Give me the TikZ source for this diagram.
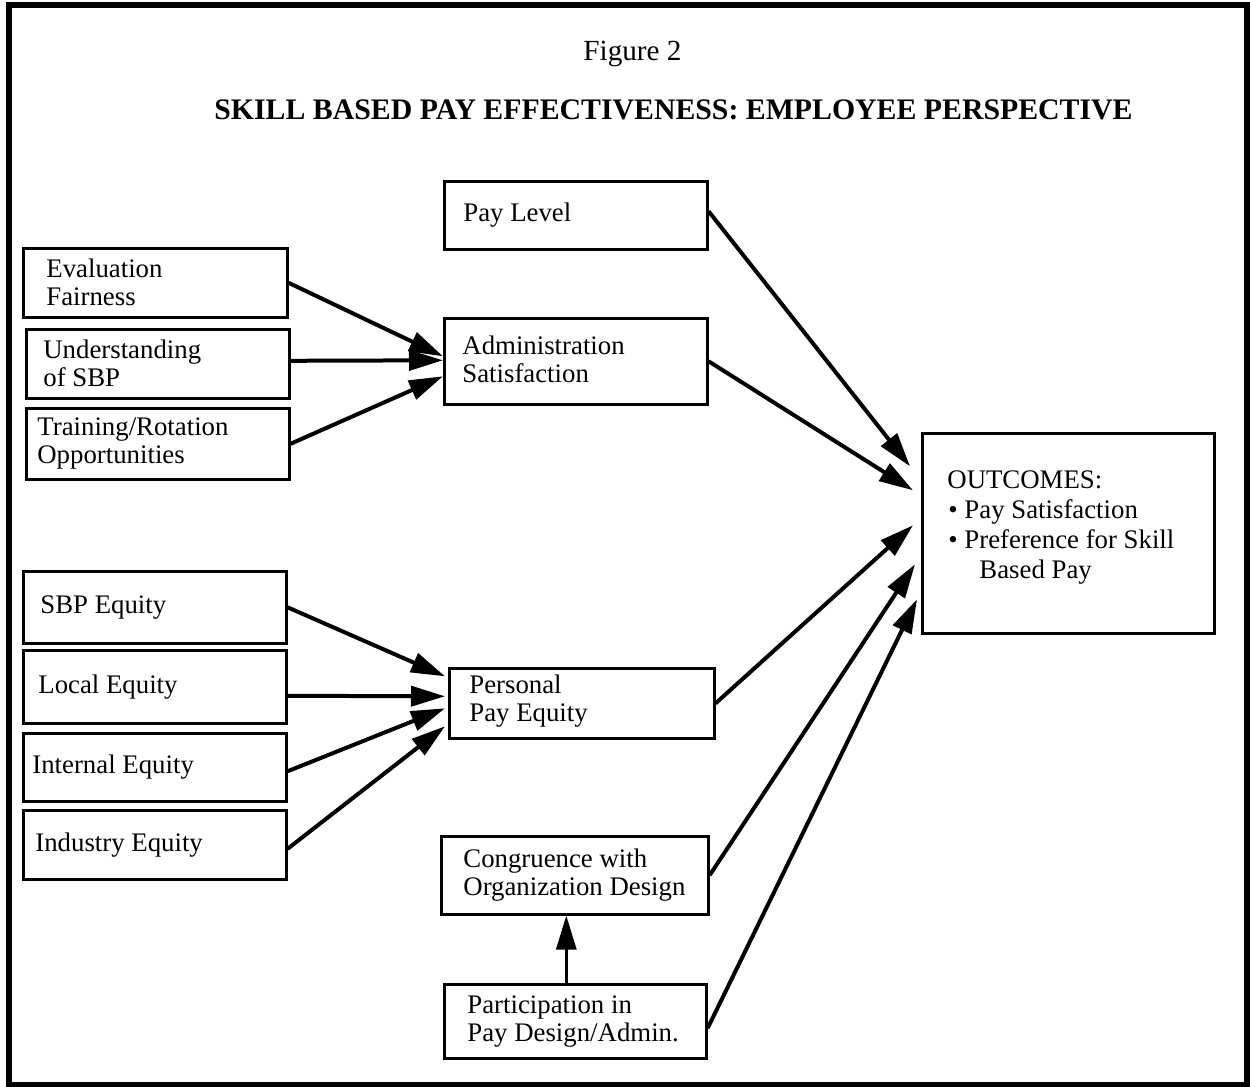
\documentclass[tikz,border=0pt]{standalone}
\usepackage{fontspec}
\setmainfont{Liberation Serif}
\usetikzlibrary{arrows.meta,calc}
\tikzset{
  box/.style={draw, line width=1.3pt, rectangle, anchor=north west, inner sep=0pt},
  txt/.style={anchor=west, inner sep=0pt, align=left, font=\fontsize{13.4}{14}\selectfont},
  arr/.style={line width=2pt, -{Triangle[length=17pt,width=10pt]}},
}
\begin{document}
\begin{tikzpicture}[x=0.5pt,y=-0.5pt]
\useasboundingbox (0,0) rectangle (1250,1087);
\draw[line width=3pt] (9,5) rectangle (1247,1085);
\node[anchor=base west, inner sep=0pt, font=\fontsize{14.6}{15}\selectfont] (fig) at (583,60) {Figure 2};
\node[anchor=base west, inner sep=0pt, font=\fontsize{14.9}{15}\selectfont\bfseries] (title) at (214,119) {SKILL BASED PAY EFFECTIVENESS: EMPLOYEE PERSPECTIVE};
% left upper boxes
\node[box, minimum width=132pt, minimum height=34.5pt] (eval) at (22,247) {};
\node[txt] (evalT) at ($(eval.west)+(24,0)$) {Evaluation\\Fairness};
\node[box, minimum width=131.5pt, minimum height=34.5pt] (under) at (25,328) {};
\node[txt] (underT) at ($(under.west)+(18,0)$) {Understanding\\of SBP};
\node[box, minimum width=131.5pt, minimum height=35.5pt] (train) at (25,407) {};
\node[txt] (trainT) at ($(train.west)+(12,0)$) {Training/Rotation\\Opportunities};
% left lower boxes
\node[box, minimum width=131.5pt, minimum height=36pt] (sbp) at (22,570) {};
\node[txt] (sbpT) at ($(sbp.west)+(18,0)$) {SBP Equity};
\node[box, minimum width=131.5pt, minimum height=36.5pt] (local) at (22,649) {};
\node[txt] (localT) at ($(local.west)+(16,0)$) {Local Equity};
\node[box, minimum width=131.5pt, minimum height=34pt] (internal) at (22,732) {};
\node[txt] (internalT) at ($(internal.west)+(10,0)$) {Internal Equity};
\node[box, minimum width=131.5pt, minimum height=34.5pt] (industry) at (22,809) {};
\node[txt] (industryT) at ($(industry.west)+(13,0)$) {Industry Equity};
% middle boxes
\node[box, minimum width=131.5pt, minimum height=34pt] (pay) at (443,180) {};
\node[txt] (payT) at ($(pay.west)+(20,0)$) {Pay Level};
\node[box, minimum width=131.5pt, minimum height=43pt] (admin) at (443,317) {};
\node[txt] (adminT) at ($(admin.west)+(19,-2)$) {Administration\\Satisfaction};
\node[box, minimum width=132.5pt, minimum height=35pt] (personal) at (448,667) {};
\node[txt] (personalT) at ($(personal.west)+(21,-2)$) {Personal\\Pay Equity};
\node[box, minimum width=133.5pt, minimum height=39pt] (cong) at (440,835) {};
\node[txt] (congT) at ($(cong.west)+(23,0)$) {Congruence with\\Organization Design};
\node[box, minimum width=131pt, minimum height=37pt] (part) at (443,983) {};
\node[txt] (partT) at ($(part.west)+(24,0)$) {Participation in\\Pay Design/Admin.};
% outcomes
\node[box, minimum width=146pt, minimum height=100pt] (out) at (921,432) {};
\node[txt, font=\fontsize{13.4}{15}\selectfont] (outT) at ($(out.west)+(26,-6)$)
  {OUTCOMES:\\\hspace*{0.5pt}\textbullet\ Pay Satisfaction\\\hspace*{0.5pt}\textbullet\ Preference for Skill\\\hspace*{16pt}Based Pay};
% arrows into admin
\draw[arr] (eval.east) -- ($(admin.west)+(0,-5)$);
\draw[arr] ($(under.east)+(0,-3)$) -- ($(admin.west)+(0,-1)$);
\draw[arr] (train.east) -- ($(admin.west)+(0,15)$);
% arrows into personal
\draw[arr] (sbp.east) -- ($(personal.west)+(-3,-27)$);
\draw[arr] ($(local.east)+(0,9)$) -- ($(personal.west)+(-3,-7)$);
\draw[arr] ($(internal.east)+(0,4)$) -- ($(personal.west)+(-3,5)$);
\draw[arr] ($(industry.east)+(0,4)$) -- ($(personal.west)+(-3,23)$);
% arrows into outcomes
\draw[arr] ($(pay.east)+(0,-4)$) -- ($(out.west)+(-11,-67)$);
\draw[arr] (admin.east) -- ($(out.west)+(-8,-43)$);
\draw[arr] (personal.east) -- ($(out.west)+(-8,-8)$);
\draw[arr] (cong.east) -- ($(out.west)+(-6,31)$);
\draw[arr] ($(part.east)+(0,7)$) -- ($(out.west)+(-4,66)$);
% up arrow
\draw[arr, line width=1.6pt] ($(part.north)+(-9,0)$) -- ($(cong.south)+(-8.5,0)$);
\end{tikzpicture}
\end{document}
